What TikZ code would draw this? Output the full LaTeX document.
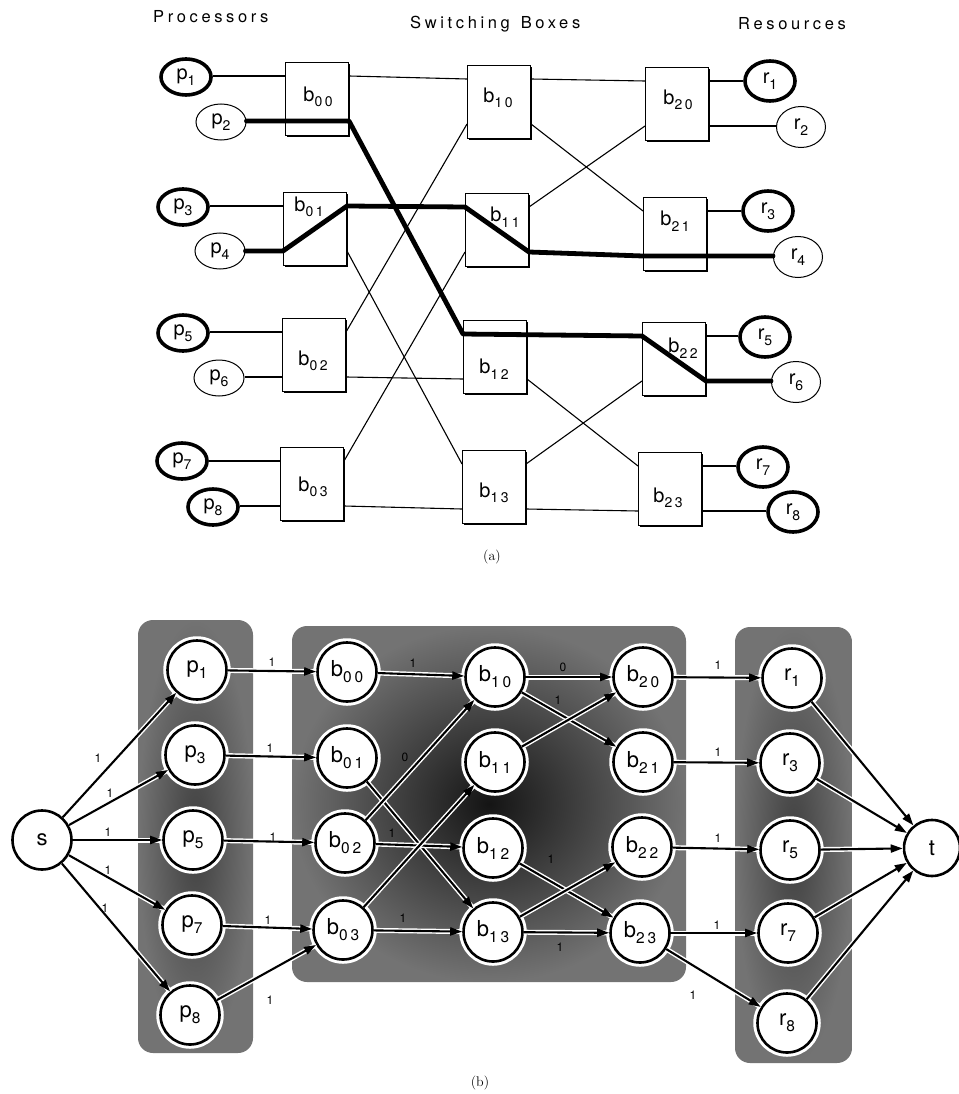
\documentclass[tikz,border=0pt]{standalone}
\usepackage{fontspec}
\newfontfamily\hv{TeX Gyre Heros}
\newfontfamily\hvsp{TeX Gyre Heros}[LetterSpace=22]
\newfontfamily\hvs{TeX Gyre Heros}[LetterSpace=18]
\usetikzlibrary{shapes.geometric,arrows.meta,shadows}
\newcommand\asub[1]{\raisebox{-5.5pt}{\hvs\fontsize{14}{14}\selectfont #1}}
\newcommand\bsub[1]{\raisebox{-6pt}{\hvs\fontsize{15.5}{15.5}\selectfont #1}}
\begin{document}
\begin{tikzpicture}[x=1pt,y=-1pt,
  wire/.style={line width=1.1pt},
  heavy/.style={line width=4.8pt, line join=round, line cap=round},
  procA/.style={ellipse, draw, fill=white, minimum width=50pt, minimum height=36pt, inner sep=0pt, font=\hv\fontsize{20}{20}\selectfont},
  thk/.style={procA, line width=3.6pt},
  thn/.style={procA, line width=1pt},
  rthk/.style={thk, minimum height=40pt},
  rthn/.style={thn, minimum height=41pt, minimum width=49pt},
  sbox/.style={draw, fill=white, line width=1pt, minimum width=63pt, minimum height=73pt, inner sep=0pt, anchor=north west, drop shadow={shadow xshift=1.8pt, shadow yshift=-1.8pt, opacity=1, fill=black}},
  alab/.style={font=\hv\fontsize{20}{20}\selectfont, inner sep=0pt},
  head/.style={font=\hvsp\fontsize{16.5}{16.5}\selectfont, inner sep=0pt, anchor=base west},
  fnode/.style={circle, draw, fill=white, line width=2.6pt, minimum size=59pt, inner sep=0pt, font=\hv\fontsize{22}{22}\selectfont, preaction={draw=white, line width=8.5pt}},
  fe/.style={line width=2.1pt, -{Triangle[length=12pt,width=8pt]}, preaction={draw=white, line width=5pt, arrows=-}},
  flab/.style={font=\hv\fontsize{12}{12}\selectfont, inner sep=0pt},
  captxt/.style={font=\fontsize{14}{14}\selectfont, inner sep=0pt}
]
\useasboundingbox[fill=white] (0,0) rectangle (958,1094);

% ---------------- (a) ----------------
\node[head] (hp) at (153,23) {Processors};
\node[head] (hs) at (410,29) {Switching\, Boxes};
\node[head] (hr) at (738,30) {Resources};

\foreach \n/\x/\y in {b00/285/62, b01/283/192, b02/282/318, b03/280/447,
                      b10/467/65, b11/465/193, b12/463/320, b13/462/450,
                      b20/645/67, b21/643/197, b22/642/322, b23/638/452}{
  \node[sbox] (\n) at (\x,\y) {};
  \coordinate (\n-ul) at ([yshift=-14pt]\n.north west);
  \coordinate (\n-ll) at ([yshift=-59pt]\n.north west);
  \coordinate (\n-ur) at ([yshift=-14pt]\n.north east);
  \coordinate (\n-lr) at ([yshift=-59pt]\n.north east);
}

\node[alab] (lb00) at (318,97) {b\asub{00}};
\node[alab] (lb01) at (309,207) {b\asub{01}};
\node[alab] (lb02) at (313,361) {b\asub{02}};
\node[alab] (lb03) at (313,487) {b\asub{03}};
\node[alab] (lb10) at (498,98) {b\asub{10}};
\node[alab] (lb11) at (505,217) {b\asub{11}};
\node[alab] (lb12) at (494,369) {b\asub{12}};
\node[alab] (lb13) at (494,493) {b\asub{13}};
\node[alab] (lb20) at (678,100) {b\asub{20}};
\node[alab] (lb21) at (675,221) {b\asub{21}};
\node[alab] (lb22) at (683,348) {b\asub{22}};
\node[alab] (lb23) at (668,498) {b\asub{23}};

\node[thk] (p1) at (186,77) {p\asub{1}};
\node[thn] (p2) at (221,122) {p\asub{2}};
\node[thk] (p3) at (183,207) {p\asub{3}};
\node[thn] (p4) at (220,251) {p\asub{4}};
\node[thk] (p5) at (183,333) {p\asub{5}};
\node[thn] (p6) at (219,378) {p\asub{6}};
\node[thk] (p7) at (182,461) {p\asub{7}};
\node[thk] (p8) at (213,507) {p\asub{8}};

\node[rthk] (r1) at (770,81) {r\asub{1}};
\node[rthn] (r2) at (801,127) {r\asub{2}};
\node[rthk] (r3) at (768,211) {r\asub{3}};
\node[rthn] (r4) at (798,257) {r\asub{4}};
\node[rthk] (r5) at (765,337) {r\asub{5}};
\node[rthn] (r6) at (796,382) {r\asub{6}};
\node[rthk] (r7) at (763,467) {r\asub{7}};
\node[rthk] (r8) at (793,512) {r\asub{8}};

% thin wires
\draw[wire] (b00-ul -| p1.east) -- (b00-ul);
\draw[wire] (b01-ul -| p3.east) -- (b01-ul);
\draw[wire] (b02-ul -| p5.east) -- (b02-ul);
\draw[wire] (b02-ll -| p6.east) -- (b02-ll);
\draw[wire] (b03-ul -| p7.east) -- (b03-ul);
\draw[wire] (b03-ll -| p8.east) -- (b03-ll);
\draw[wire] (b00-ur) -- (b10-ul);
\draw[wire] (b01-lr) -- (b13-ul);
\draw[wire] (b02-ur) -- (b10-ll);
\draw[wire] (b02-lr) -- (b12-ll);
\draw[wire] (b03-ur) -- (b11-ll);
\draw[wire] (b03-lr) -- (b13-ll);
\draw[wire] (b10-ur) -- (b20-ul);
\draw[wire] (b10-lr) -- (b21-ul);
\draw[wire] (b11-ur) -- (b20-ll);
\draw[wire] (b12-lr) -- (b23-ul);
\draw[wire] (b13-ur) -- (b22-ll);
\draw[wire] (b13-lr) -- (b23-ll);
\draw[wire] (b20-ur) -- (b20-ur -| r1.west);
\draw[wire] (b20-lr) -- (b20-lr -| r2.west);
\draw[wire] (b21-ur) -- (b21-ur -| r3.west);
\draw[wire] (b22-ur) -- (b22-ur -| r5.west);
\draw[wire] (b23-ur) -- (b23-ur -| r7.west);
\draw[wire] (b23-lr) -- (b23-lr -| r8.west);

% established connections
\draw[heavy] (b00-ll -| p2.east) -- (b00-ll) -- (b00-lr) -- (b12-ul) -- (b22-ul) -- (b22-lr) -- (b22-lr -| r6.west);
\draw[heavy] (b01-ll -| p4.east) -- (b01-ll) -- (b01-ur) -- (b11-ul) -- (b11-lr) -- (b21-ll) -- (b21-lr) -- (b21-lr -| r4.west);

\node[captxt] (capa) at (492,557) {(a)};

% ---------------- (b) ----------------
\shade[rounded corners=15pt, inner color=black!75, outer color=black!55] (138,620) rectangle (253,1053);
\shade[rounded corners=15pt, inner color=black!92, outer color=black!55] (292,626) rectangle (686,982);
\shade[rounded corners=15pt, inner color=black!75, outer color=black!55] (735,627) rectangle (852,1063);

\node[fnode] (s) at (42,840) {s};
\node[fnode, minimum size=56pt] (t) at (932,848) {t};
\node[fnode] (np1) at (197,670) {p\bsub{1}};
\node[fnode] (np3) at (195,755) {p\bsub{3}};
\node[fnode] (np5) at (193,840) {p\bsub{5}};
\node[fnode] (np7) at (192,925) {p\bsub{7}};
\node[fnode] (np8) at (190,1015) {p\bsub{8}};
\node[fnode] (nb00) at (347,672) {b\bsub{00}};
\node[fnode] (nb01) at (347,758) {b\bsub{01}};
\node[fnode] (nb02) at (345,843) {b\bsub{02}};
\node[fnode] (nb03) at (343,930) {b\bsub{03}};
\node[fnode] (nb10) at (495,677) {b\bsub{10}};
\node[fnode] (nb11) at (495,762) {b\bsub{11}};
\node[fnode] (nb12) at (493,848) {b\bsub{12}};
\node[fnode] (nb13) at (493,932) {b\bsub{13}};
\node[fnode] (nb20) at (643,677) {b\bsub{20}};
\node[fnode] (nb21) at (643,762) {b\bsub{21}};
\node[fnode] (nb22) at (642,847) {b\bsub{22}};
\node[fnode] (nb23) at (640,933) {b\bsub{23}};
\node[fnode] (nr1) at (792,678) {r\bsub{1}};
\node[fnode] (nr3) at (790,763) {r\bsub{3}};
\node[fnode] (nr5) at (790,850) {r\bsub{5}};
\node[fnode] (nr7) at (788,933) {r\bsub{7}};
\node[fnode] (nr8) at (787,1023) {r\bsub{8}};

\foreach \a/\b in {s/np1, s/np3, s/np5, s/np7, s/np8,
                   np1/nb00, np3/nb01, np5/nb02, np7/nb03, np8/nb03,
                   nb00/nb10, nb01/nb13, nb02/nb10, nb02/nb12, nb03/nb11, nb03/nb13,
                   nb10/nb20, nb10/nb21, nb11/nb20, nb12/nb23, nb13/nb22, nb13/nb23,
                   nb20/nr1, nb21/nr3, nb22/nr5, nb23/nr7, nb23/nr8,
                   nr1/t, nr3/t, nr5/t, nr7/t, nr8/t}{
  \draw[fe] (\a) -- (\b);
}

% flow labels
\node[flab] (l1) at (98,758) {1};
\node[flab] (l2) at (110,793) {1};
\node[flab] (l3) at (108,832) {1};
\node[flab] (l4) at (108,870) {1};
\node[flab] (l5) at (105,908) {1};
\node[flab] (l6) at (272,662) {1};
\node[flab] (l7) at (270,748) {1};
\node[flab] (l8) at (273,837) {1};
\node[flab] (l9) at (268,920) {1};
\node[flab] (l10) at (270,1000) {1};
\node[flab] (l11) at (413,663) {1};
\node[flab] (l12) at (405,757) {0};
\node[flab] (l13) at (392,833) {1};
\node[flab] (l14) at (403,918) {1};
\node[flab] (l15) at (563,667) {0};
\node[flab] (l16) at (558,700) {1};
\node[flab] (l17) at (551,859) {1};
\node[flab] (l18) at (560,947) {1};
\node[flab] (l19) at (718,665) {1};
\node[flab] (l20) at (718,752) {1};
\node[flab] (l21) at (718,838) {1};
\node[flab] (l22) at (717,925) {1};
\node[flab] (l23) at (693,995) {1};

\node[captxt] (capb) at (480,1083) {(b)};
\end{tikzpicture}
\end{document}
